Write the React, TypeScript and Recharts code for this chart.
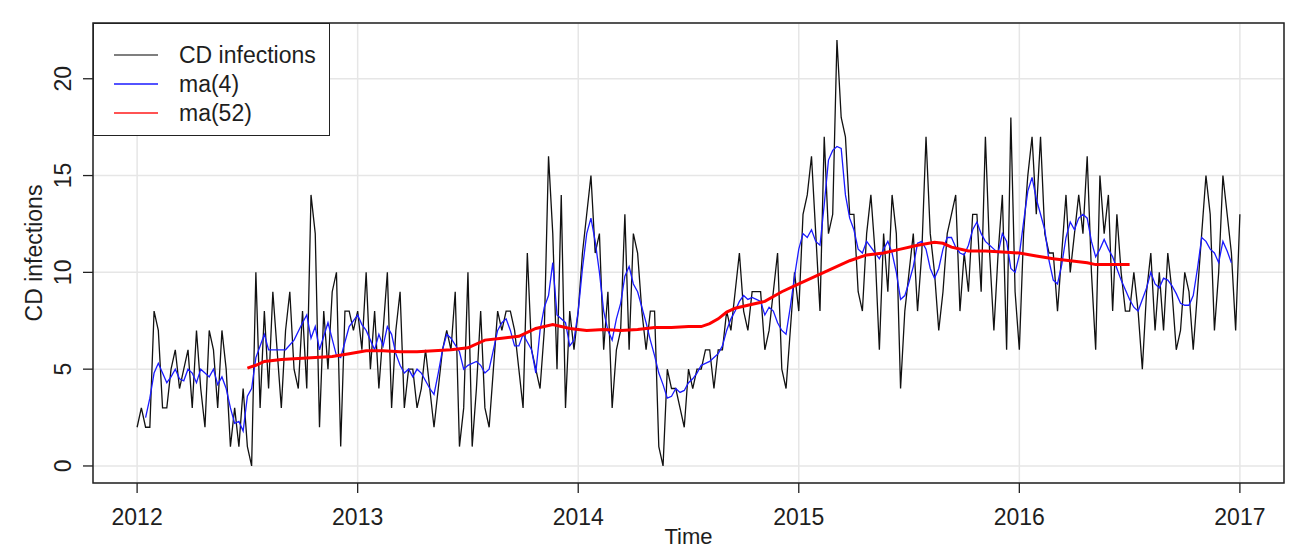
import { CartesianGrid, Line, LineChart, ReferenceArea, XAxis, YAxis } from "recharts";

// weekly CD infection counts, week 0 = start of 2012
const CD_WEEKLY = [
  2, 3, 2, 2, 8, 7, 3, 3, 5, 6, 4, 5, 6,
  3, 7, 4, 2, 7, 6, 3, 7, 5, 1, 3, 1, 4,
  1, 0, 10, 3, 8, 4, 9, 6, 3, 7, 9, 5, 4,
  8, 4, 14, 12, 2, 8, 5, 9, 10, 1, 8, 8, 7,
  8, 6, 10, 5, 8, 4, 7, 10, 3, 7, 9, 3, 5,
  5, 3, 4, 6, 4, 2, 4, 6, 7, 6, 9, 1, 3,
  10, 1, 4, 8, 3, 2, 5, 8, 7, 8, 8, 7, 5,
  3, 11, 6, 5, 4, 7, 16, 12, 5, 14, 3, 8, 6,
  8, 11, 13, 15, 11, 12, 6, 9, 3, 6, 7, 13, 6,
  12, 11, 8, 6, 8, 8, 1, 0, 5, 4, 4, 3, 2,
  5, 4, 5, 5, 6, 6, 4, 6, 6, 8, 7, 9, 11,
  8, 7, 9, 9, 9, 6, 7, 9, 11, 5, 4, 7, 10,
  8, 13, 14, 16, 12, 8, 17, 12, 13, 22, 18, 17, 13,
  13, 9, 8, 12, 14, 11, 6, 12, 9, 14, 12, 4, 8,
  10, 12, 8, 11, 17, 12, 10, 7, 9, 12, 13, 14, 8,
  11, 9, 13, 13, 9, 17, 11, 7, 11, 14, 6, 18, 9,
  6, 12, 15, 17, 13, 17, 12, 11, 11, 8, 11, 14, 10,
  12, 14, 12, 16, 10, 6, 15, 12, 14, 8, 13, 10, 8,
  8, 10, 8, 5, 9, 11, 7, 10, 7, 11, 9, 6, 7,
  10, 9, 6, 9, 12, 15, 13, 7, 10, 15, 13, 11, 7,
  13,
];

const MA4: [number, number][] = [
  [2, 2.5], [3, 3.5], [4, 4.8], [5, 5.3], [6, 4.8], [7, 4.3], [8, 4.6], [9, 5.0], [10, 4.5],
  [11, 4.4], [12, 5.0], [13, 4.8], [14, 4.3], [15, 5.0], [16, 4.8], [17, 4.6], [18, 5.0],
  [19, 4.2], [20, 4.6], [21, 4.0], [22, 3.0], [23, 2.2], [24, 2.3], [25, 1.8], [26, 3.6],
  [27, 4.0], [28, 5.6], [29, 6.2], [30, 6.8], [31, 6.0], [33, 6.0], [35, 6.0], [37, 6.5],
  [39, 7.4], [40, 7.8], [41, 6.6], [42, 7.2], [43, 6.0], [45, 7.4], [47, 5.7], [48, 5.6],
  [50, 7.2], [52, 7.8], [53, 7.3], [54, 7.0], [55, 6.5], [56, 6.0], [57, 6.8], [58, 6.2],
  [59, 7.2], [60, 6.8], [61, 5.8], [62, 5.2], [63, 4.8], [64, 5.0], [65, 4.6], [66, 5.0],
  [67, 4.8], [68, 4.4], [69, 4.0], [70, 3.7], [71, 4.8], [72, 6.0], [73, 6.8], [74, 6.6],
  [76, 5.9], [77, 5.0], [78, 5.2], [80, 5.4], [81, 5.2], [82, 4.8], [83, 5.0], [84, 6.0],
  [85, 7.0], [86, 7.4], [87, 7.6], [88, 7.0], [89, 6.2], [90, 6.2], [91, 6.8], [92, 6.4],
  [93, 6.0], [94, 4.8], [95, 7.0], [96, 8.2], [97, 8.8], [98, 10.5], [99, 7.8], [100, 7.6],
  [101, 7.4], [102, 6.2], [103, 6.5], [104, 8.0], [105, 10.2], [106, 12.0], [107, 12.8],
  [108, 11.6], [109, 10.0], [110, 8.0], [111, 7.0], [112, 6.5], [113, 7.6], [114, 8.4],
  [115, 9.8], [116, 10.3], [117, 9.4], [118, 9.0], [119, 8.2], [120, 7.4], [121, 6.5],
  [122, 5.7], [123, 4.8], [124, 4.2], [125, 3.5], [126, 3.6], [127, 4.0], [128, 3.8],
  [129, 3.9], [130, 4.3], [131, 4.5], [132, 4.8], [133, 5.2], [134, 5.3], [135, 5.4],
  [136, 5.6], [137, 5.8], [138, 6.2], [139, 7.0], [140, 7.6], [141, 8.0], [142, 8.5],
  [143, 8.8], [144, 8.6], [145, 8.7], [146, 8.6], [147, 8.5], [148, 7.8], [149, 8.2],
  [150, 8.0], [151, 7.4], [152, 7.0], [153, 6.8], [154, 8.2], [155, 9.8], [156, 11.2],
  [157, 12.0], [158, 11.8], [159, 12.2], [160, 11.6], [161, 11.4], [162, 13.5], [163, 15.8],
  [164, 16.3], [165, 16.5], [166, 16.4], [167, 14.0], [168, 12.8], [169, 12.2], [170, 11.2],
  [171, 11.0], [172, 11.6], [173, 11.3], [174, 11.0], [175, 10.7], [176, 11.2], [177, 11.6],
  [178, 11.0], [179, 10.0], [180, 8.6], [181, 8.8], [182, 9.5], [183, 10.3], [184, 11.5],
  [185, 11.6], [186, 11.2], [187, 10.2], [188, 9.7], [189, 10.2], [190, 11.2], [191, 11.8],
  [192, 11.8], [193, 11.3], [194, 11.0], [195, 10.9], [196, 11.4], [197, 12.2], [198, 12.6],
  [199, 12.0], [200, 11.6], [201, 11.4], [202, 11.2], [203, 11.0], [204, 12.0], [205, 11.6],
  [206, 10.2], [207, 10.0], [208, 10.9], [209, 12.6], [210, 14.2], [211, 14.9], [212, 13.8],
  [213, 13.0], [214, 12.2], [215, 10.6], [216, 9.6], [217, 9.4], [218, 10.4], [219, 11.8],
  [220, 12.6], [221, 12.2], [222, 12.8], [223, 13.0], [224, 12.8], [225, 11.6], [226, 10.8],
  [227, 11.2], [228, 11.7], [229, 11.2], [230, 10.8], [231, 10.2], [232, 9.6], [233, 9.1],
  [234, 8.6], [235, 8.2], [236, 8.0], [237, 8.6], [238, 9.2], [239, 10.0], [240, 9.4],
  [241, 9.2], [242, 9.7], [243, 9.6], [244, 9.3], [245, 8.9], [246, 8.4], [247, 8.3],
  [248, 8.3], [249, 8.8], [250, 10.2], [251, 11.8], [252, 11.6], [253, 11.2], [254, 11.0],
  [255, 10.5], [256, 11.6], [257, 11.1], [258, 10.5],
];

const MA52: [number, number][] = [
  [26, 5.05], [28, 5.2], [30, 5.4], [34, 5.5], [38, 5.55], [42, 5.6], [46, 5.65], [50, 5.8],
  [54, 5.95], [58, 5.95], [62, 5.9], [66, 5.9], [70, 5.95], [74, 6.0], [78, 6.1], [82, 6.5],
  [86, 6.6], [90, 6.7], [94, 7.1], [98, 7.3], [102, 7.1], [106, 7.0], [110, 7.05], [114, 7.0],
  [118, 7.05], [122, 7.15], [126, 7.15], [130, 7.2], [133, 7.2], [135, 7.35], [137, 7.6],
  [139, 7.95], [141, 8.15], [144, 8.3], [148, 8.5], [152, 9.0], [156, 9.4], [160, 9.8],
  [164, 10.2], [168, 10.6], [172, 10.9], [176, 11.0], [180, 11.2], [184, 11.4], [188, 11.55],
  [190, 11.5], [192, 11.3], [196, 11.1], [200, 11.1], [204, 11.05], [208, 11.0], [212, 10.85],
  [216, 10.7], [220, 10.6], [224, 10.5], [226, 10.4], [230, 10.4], [234, 10.4],
];

const YEAR_TICKS = [2012, 2013, 2014, 2015, 2016, 2017];
const VALUE_TICKS = [0, 5, 10, 15, 20];

const toTime = (week: number) => 2012 + week / 52;

const rawData = CD_WEEKLY.map((v, i) => ({ t: toTime(i), v }));
const ma4Data = MA4.map(([w, v]) => ({ t: toTime(w), v }));
const ma52Data = MA52.map(([w, v]) => ({ t: toTime(w), v }));

const FONT = "'Liberation Sans', Arial, sans-serif";
const TEXT = "#1e1e1e";

function XTick({ x, y, payload }: any) {
  return (
    <text x={x} y={y + 30} textAnchor="middle" fontSize={23} fontFamily={FONT} fill={TEXT}>
      {payload.value}
    </text>
  );
}

function YTick({ x, y, payload }: any) {
  const bx = x - 10;
  return (
    <text
      x={bx}
      y={y}
      transform={`rotate(-90 ${bx} ${y})`}
      textAnchor="middle"
      fontSize={23}
      fontFamily={FONT}
      fill={TEXT}
    >
      {payload.value}
    </text>
  );
}

const legendItems = [
  { label: "CD infections", color: "#000000", width: 1.2 },
  { label: "ma(4)", color: "#1a1aff", width: 1.4 },
  { label: "ma(52)", color: "#ff1a1a", width: 1.6 },
];

export default function App() {
  return (
    <div style={{ position: "relative", width: 1301, height: 550, overflow: "hidden", background: "#fff" }}>
      <style>{"body{margin:0}"}</style>
      <LineChart width={1301} height={550} margin={{ top: 23, right: 17, bottom: 0, left: 0 }}>
        <CartesianGrid stroke="#e6e6e6" strokeWidth={1.5} />
        <XAxis
          dataKey="t"
          type="number"
          domain={[2011.8, 2017.2]}
          ticks={YEAR_TICKS}
          allowDataOverflow
          axisLine={false}
          tickLine={{ stroke: "#222", strokeWidth: 1.3 }}
          tickSize={10}
          tickMargin={2}
          height={67}
          tick={<XTick />}
        />
        <YAxis
          type="number"
          domain={[-0.88, 22.88]}
          ticks={VALUE_TICKS}
          allowDataOverflow
          axisLine={false}
          tickLine={{ stroke: "#222", strokeWidth: 1.3 }}
          tickSize={10}
          tickMargin={2}
          width={93}
          tick={<YTick />}
        />
        <Line
          data={rawData}
          dataKey="v"
          type="linear"
          stroke="#111"
          strokeWidth={1.3}
          dot={false}
          isAnimationActive={false}
        />
        <Line
          data={ma4Data}
          dataKey="v"
          type="linear"
          stroke="#1a1aff"
          strokeWidth={1.3}
          dot={false}
          isAnimationActive={false}
        />
        <Line
          data={ma52Data}
          dataKey="v"
          type="linear"
          stroke="#ff0000"
          strokeWidth={3}
          dot={false}
          isAnimationActive={false}
        />
        <ReferenceArea
          x1={2011.8}
          x2={2017.2}
          y1={-0.88}
          y2={22.88}
          fill="none"
          fillOpacity={0}
          stroke="#222"
          strokeWidth={1.5}
          ifOverflow="visible"
        />
      </LineChart>

      {/* legend box */}
      <div
        style={{
          position: "absolute",
          left: 93,
          top: 23,
          width: 237,
          height: 113,
          border: "1.5px solid #222",
          background: "#fff",
          boxSizing: "border-box",
          fontFamily: FONT,
          fontSize: 23,
          color: TEXT,
        }}
      >
        {legendItems.map((it, i) => (
          <div
            key={it.label}
            style={{ position: "absolute", left: 0, top: 18 + i * 29, height: 26, display: "flex", alignItems: "center" }}
          >
            <svg width={85} height={26} style={{ display: "block" }}>
              <line x1={20} x2={64} y1={13} y2={13} stroke={it.color} strokeWidth={it.width} />
            </svg>
            <span style={{ lineHeight: "26px", whiteSpace: "nowrap" }}>{it.label}</span>
          </div>
        ))}
      </div>

      {/* axis titles */}
      <div
        style={{
          position: "absolute",
          left: 34,
          top: 253,
          transform: "translate(-50%, -50%) rotate(-90deg)",
          fontFamily: FONT,
          fontSize: 23,
          color: TEXT,
          whiteSpace: "nowrap",
        }}
      >
        CD infections
      </div>
      <div
        style={{
          position: "absolute",
          left: 93,
          width: 1191,
          top: 526,
          textAlign: "center",
          fontFamily: FONT,
          fontSize: 22,
          lineHeight: "22px",
          color: TEXT,
        }}
      >
        Time
      </div>
    </div>
  );
}
